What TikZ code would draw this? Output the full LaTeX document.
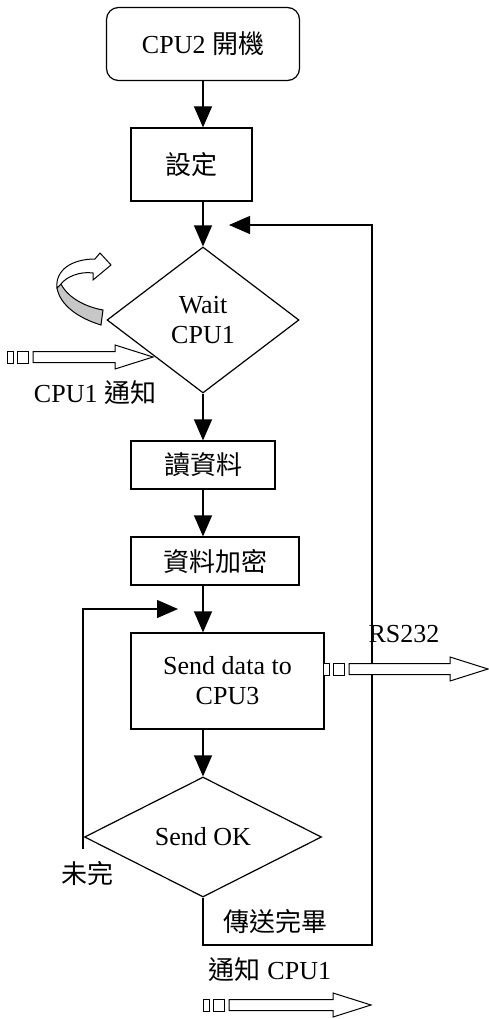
\documentclass[tikz,border=0pt]{standalone}
\usepackage{fontspec}
\setmainfont{Liberation Serif}
\newfontfamily\cjk{Noto Sans CJK TC}
\usetikzlibrary{%
  positioning
 ,arrows.meta
 ,calc
 ,shapes
}
\tikzstyle{fc}=[x=1pt,y=-1pt,line width=1.2pt,font=\fontsize{26}{30}\selectfont,>={Triangle[length=21pt,width=18pt]}]
\tikzstyle{blk}=[rectangle,draw=black,inner sep=0pt,align=center]
\tikzstyle{rblk}=[blk,rounded corners=12pt]
\tikzstyle{dmd}=[diamond,draw=black,inner sep=0pt,align=center]
\tikzstyle{sig}=[draw=black,fill=white,line width=1pt]
\tikzstyle{lbl}=[inner sep=0pt]
% hollow signal arrow with two small squares behind it
\newcommand{\sigarr}[2]{%
  \draw[sig] ($(#1)+(-26,-6)$) rectangle ($(#1)+(-20,6)$);
  \draw[sig] ($(#1)+(-16,-6)$) rectangle ($(#1)+(-5,6)$);
  \draw[sig] ($(#1)+(0,-5.5)$) -- ($(#2)+(-38,-5.5)$) -- ($(#2)+(-38,-12)$) -- (#2)
    -- ($(#2)+(-38,12)$) -- ($(#2)+(-38,5.5)$) -- ($(#1)+(0,5.5)$) -- cycle;}

\begin{document}
\begin{tikzpicture}[fc]
      \useasboundingbox (0,0) rectangle (489,1019);
      \node[rblk,minimum width=193pt,minimum height=73pt] (start) at (203,44) {CPU2 {\cjk 開機}};
      \node[blk,minimum width=121pt,minimum height=73pt] (setup) at (191.5,164.5) {\cjk 設定};
      \node[dmd,minimum width=192pt,minimum height=146pt] (wait) at (203,320) {Wait\\CPU1};
      \node[blk,minimum width=144pt,minimum height=48pt] (read) at (203,465) {\cjk 讀資料};
      \node[blk,minimum width=168pt,minimum height=48pt] (enc) at (215,561) {\cjk 資料加密};
      \node[blk,minimum width=193pt,minimum height=96pt] (send) at (227.5,681) {Send data to\\CPU3};
      \node[dmd,minimum width=237pt,minimum height=120pt] (ok) at (203,837) {Send OK};
      \draw[->] (start.south) -- (start.south |- setup.north);
      \draw[->] (start.south |- setup.south) -- (wait.north);
      \draw[->] (wait.south) -- (read.north);
      \draw[->] (read.south) -- (read.south |- enc.north);
      \draw[->] (read.south |- enc.south) -- (read.south |- send.north);
      \draw[->] (read.south |- send.south) -- (ok.north);
      % loops
      \coordinate (redo) at (178,609);
      \coordinate (redo_b) at (83,849);
      \draw[->] (redo_b) |- (redo);
      \coordinate (done) at (372,945);
      \coordinate (back) at (229,225);
      \draw[->] (ok.south) |- (done) |- (back);
      % waiting symbol
      \draw[line width=1pt,fill=black!22] (101,325) .. controls (78,318) and (60,305) .. (57,288)
        -- (61,284) .. controls (68,298) and (86,307) .. (103,310) -- cycle;
      \draw[line width=1pt,fill=white] (57,288) .. controls (55,270) and (72,259) .. (95,259)
        -- (100,253) -- (111,265) -- (93,280) -- (93,273) .. controls (80,271) and (66,277) .. (61,284) -- cycle;
      % signals
      \coordinate (in_a) at (33,357);
      \coordinate (in_b) at (153,357);
      \sigarr{in_a}{in_b}
      \coordinate (rs_a) at (349,669);
      \coordinate (rs_b) at (488,669);
      \sigarr{rs_a}{rs_b}
      \coordinate (nt_a) at (229,1005);
      \coordinate (nt_b) at (371,1005);
      \sigarr{nt_a}{nt_b}
      \node[lbl] (l_in) at (95,393) {CPU1 {\cjk 通知}};
      \node[lbl] (l_rs) at (404,634) {RS232};
      \node[lbl] (l_nd) at (87,874) {\cjk 未完};
      \node[lbl] (l_dn) at (275,922) {\cjk 傳送完畢};
      \node[lbl] (l_nt) at (270,970) {{\cjk 通知} CPU1};
    \end{tikzpicture}
\end{document}
